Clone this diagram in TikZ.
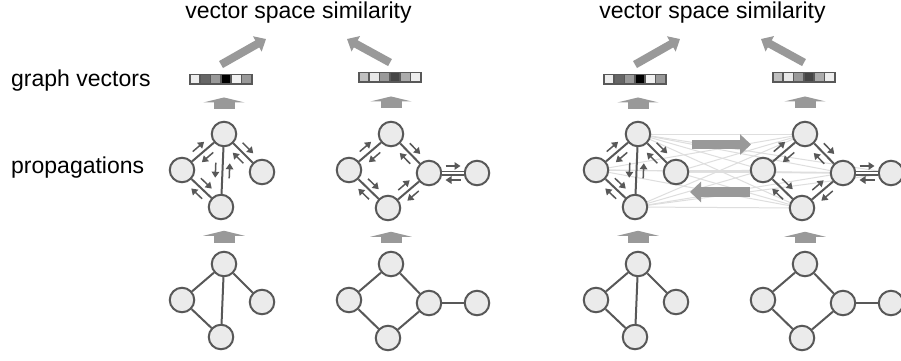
\documentclass[tikz,border=0pt]{standalone}
\usepackage{fontspec}
\setmainfont{Liberation Sans}
\usetikzlibrary{positioning,calc,arrows.meta,backgrounds}

\definecolor{edgegray}{RGB}{88,88,88}
\definecolor{nodefill}{RGB}{235,235,235}
\definecolor{arrowgray}{RGB}{153,153,153}
\definecolor{crossgray}{RGB}{222,222,222}

\newcommand{\msgs}[3][90]{%
  \draw[msgarrow] ($(#2)!.5!(#3)!7.5pt!180:(#3)!7pt!#1:(#3)$) -- ($(#2)!.5!(#3)!7.5pt!(#3)!7pt!#1:(#3)$);
  \draw[msgarrow] ($(#3)!.5!(#2)!7.5pt!180:(#2)!7pt!#1:(#2)$) -- ($(#3)!.5!(#2)!7.5pt!(#2)!7pt!#1:(#2)$);}

\newcommand{\trigraph}[2]{%
  \node (#1t) [gnode] at (#2) {};
  \node (#1l) [gnode, below left=36pt and 42pt of #1t] {};
  \node (#1r) [gnode, below right=38pt and 38pt of #1t] {};
  \node (#1b) [gnode, below left=73pt and 3pt of #1t] {};
  \draw[gedge] (#1t) -- (#1l) (#1t) -- (#1r) (#1t) -- (#1b) (#1l) -- (#1b);}

\newcommand{\sqgraph}[3][gedge]{%
  \node (#2t) [gnode] at (#3) {};
  \node (#2l) [gnode, below left=36pt and 42pt of #2t] {};
  \node (#2r) [gnode, below right=39pt and 38pt of #2t] {};
  \node (#2b) [gnode, below left=74pt and 3pt of #2t] {};
  \node (#2f) [gnode, right=48pt of #2r] {};
  \draw[gedge] (#2t) -- (#2l) (#2t) -- (#2r) (#2l) -- (#2b) (#2b) -- (#2r);
  \draw[#1] (#2r) -- (#2f);}

\newcommand{\trimsgs}[1]{\msgs{#1t}{#1l}\msgs{#1t}{#1r}\msgs[-90]{#1t}{#1b}\msgs{#1l}{#1b}}
\newcommand{\sqmsgs}[1]{\msgs{#1t}{#1l}\msgs{#1t}{#1r}\msgs{#1l}{#1b}\msgs{#1b}{#1r}\msgs{#1r}{#1f}}

\newcommand{\gvec}[3]{%
  \node (#1) [vecbox] at (#2) {};
  \foreach \s [count=\i] in {#3}
    \draw[vcell, fill=black!\s] ([xshift={(\i-1)*10.333pt}]#1.north west) rectangle ++(10.333,9.5);}

\newcommand{\graphpair}[2]{%
  \begin{scope}[xshift=#2]
    \node (#1title) [txt, anchor=base] at (298.5,18) {vector space similarity};
    \trigraph{#1p}{224,134} \trimsgs{#1p}
    \sqgraph[tailedge]{#1q}{391,134} \sqmsgs{#1q}
    \trigraph{#1x}{224,264}
    \sqgraph{#1y}{391,264}
    \gvec{#1v}{221,79.5}{7,60,40,100,6,40}
    \gvec{#1w}{390,77.5}{25,9,40,73,33,7}
    \coordinate (#1vtip) at (266,39);
    \coordinate (#1wtip) at (347,39);
    \draw[simarrow] ([yshift=10pt]#1v.north) -- (#1vtip);
    \draw[simarrow] ([yshift=10pt]#1w.north) -- (#1wtip);
    \draw[liftarrow, shorten <=12pt, shorten >=13pt] (#1pt.north) -- (#1pt.north |- #1v.south);
    \draw[liftarrow, shorten <=13pt, shorten >=14pt] (#1qt.north) -- (#1qt.north |- #1w.south);
    \draw[liftarrow, shorten <=8pt, shorten >=10.5pt] (#1xt.north) -- (#1xt.north |- #1pb.south);
    \draw[liftarrow, shorten <=8pt, shorten >=10.5pt] (#1yt.north) -- (#1yt.north |- #1qb.south);
  \end{scope}}

\begin{document}
\begin{tikzpicture}[x=1pt, y=-1pt, on grid,
  txt/.style={font=\fontsize{23}{27}\selectfont, inner sep=0},
  gnode/.style={circle, draw=edgegray, fill=nodefill, line width=2pt, minimum size=24.5pt, inner sep=0},
  gedge/.style={draw=edgegray, line width=2pt},
  tailedge/.style={draw=edgegray, line width=1.3pt, double, double distance=2.4pt},
  msgarrow/.style={draw=edgegray, line width=1.5pt, -{Triangle[length=6pt,width=7.5pt]}},
  vecbox/.style={minimum width=62pt, minimum height=9.5pt, inner sep=0},
  vcell/.style={draw=edgegray, line width=1.6pt},
  simarrow/.style={draw=arrowgray, line width=8pt, -{Triangle[length=10pt,width=17pt]}},
  liftarrow/.style={draw=arrowgray, line width=21pt, -{Triangle[length=5pt,width=41pt]}},
  crossarrow/.style={draw=arrowgray, line width=9.5pt, -{Triangle[length=11pt,width=20pt]}},
  crossline/.style={draw=crossgray, line width=1pt}]
\useasboundingbox (0,0) rectangle (901,360);

\node (veclabel) [txt, anchor=base west] at (11,86.5) {graph vectors};
\node (proplabel) [txt, anchor=base west] at (11,173) {propagations};

\graphpair{L}{0pt}
\graphpair{R}{414pt}

\begin{scope}[on background layer]
  \fill[white] (0,0) rectangle (901,360);
  \foreach \a in {t,l,r,b}
    \foreach \b in {t,l,r,b,f}
      \draw[crossline] (Rp\a) -- (Rq\b);
\end{scope}

\coordinate (fwdstart) at (692,144.5);
\coordinate (fwdend) at (751,144.5);
\coordinate (bwdstart) at (750,192);
\coordinate (bwdend) at (690,192);
\draw[crossarrow] (fwdstart) -- (fwdend);
\draw[crossarrow] (bwdstart) -- (bwdend);
\end{tikzpicture}
\end{document}
